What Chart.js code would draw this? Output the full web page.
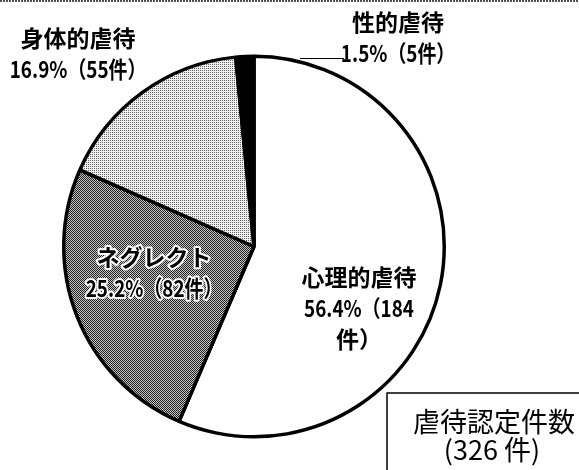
<!DOCTYPE html>
<html>
<head>
<meta charset="utf-8">
<script src="https://cdn.jsdelivr.net/npm/chart.js@4"></script>
<style>
  html, body { margin: 0; padding: 0; background: #fff; }
  #wrap { width: 579px; height: 470px; position: relative; }
</style>
</head>
<body>
<div id="wrap"><canvas id="myChart" width="579" height="470"></canvas></div>
<script>
// 虐待の種別ごとの認定件数（上から時計回り）
let categories = ["心理的虐待", "ネグレクト", "身体的虐待", "性的虐待"];
let counts = [184, 82, 55, 5];
let totalLabel = ["虐待認定件数", "(326 件)"];

let total = counts.reduce((a, b) => a + b, 0);

// ざらついた網かけ用のパターン（4x4 のディザ）
const bayer = [0, 8, 2, 10, 12, 4, 14, 6, 3, 11, 1, 9, 15, 7, 13, 5];
function makePattern(level, dark, light) {
  let c = document.createElement("canvas");
  c.width = 4;
  c.height = 4;
  let g = c.getContext("2d");
  for (let i = 0; i < 16; i++) {
    g.fillStyle = bayer[i] < level ? dark : light;
    g.fillRect(i % 4, Math.floor(i / 4), 1, 1);
  }
  return g.createPattern(c, "repeat");
}

let fills = [
  "#ffffff",
  makePattern(8, "#222222", "#c4c4c4"),
  makePattern(4, "#666666", "#f0f0f0"),
  "#000000",
];

function pctText(v) {
  return (v / total * 100).toFixed(1) + "%（" + v + "件）";
}

// ラベルの置き場所（円の中心からのずれ, px）と改行
let labelPlace = [
  { dx: 105, dy: 31, lines: (t) => [categories[0], t.slice(0, 9), t.slice(9)] },
  { dx: -100, dy: 11, halo: true, lines: (t) => [categories[1], t] },
  { dx: -176, dy: -208, lines: (t) => [categories[2], t] },
  { dx: 144, dy: -224, lines: (t) => [categories[3], t] },
];

const labelFont = 'bold 23px "Noto Sans CJK JP", sans-serif';

const labelPlugin = {
  id: "pieLabels",
  afterDraw(chart) {
    let ctx = chart.ctx;
    let arc = chart.getDatasetMeta(0).data[0];
    let cx = arc.x, cy = arc.y;
    ctx.save();

    // 紙の上端の点線
    ctx.strokeStyle = "#555";
    ctx.lineWidth = 2;
    ctx.setLineDash([2, 1]);
    ctx.beginPath();
    ctx.moveTo(0, 1);
    ctx.lineTo(579, 1);
    ctx.stroke();
    ctx.setLineDash([]);

    // 性的虐待の引き出し線
    ctx.strokeStyle = "#000";
    ctx.lineWidth = 1.2;
    ctx.beginPath();
    ctx.moveTo(cx + 46, cy - 188);
    ctx.lineTo(cx + 90, cy - 188);
    ctx.stroke();

    ctx.font = labelFont;
    ctx.textAlign = "center";
    ctx.textBaseline = "middle";
    counts.forEach((v, i) => {
      let p = labelPlace[i];
      let lines = p.lines(pctText(v));
      lines.forEach((s, k) => {
        let x = cx + p.dx;
        let y = cy + p.dy + k * 31;
        // 数字の入る行は少し詰める
        let w = ctx.measureText(s).width;
        let mw = /\d/.test(s) ? w * 0.82 : w;
        if (p.halo) {
          ctx.strokeStyle = "#fff";
          ctx.lineWidth = 4;
          ctx.lineJoin = "round";
          ctx.strokeText(s, x, y, mw);
        }
        ctx.fillStyle = "#000";
        ctx.fillText(s, x, y, mw);
      });
    });

    // 合計件数の枠
    ctx.strokeStyle = "#000";
    ctx.lineWidth = 1.5;
    ctx.beginPath();
    ctx.moveTo(387, 470);
    ctx.lineTo(387, 393);
    ctx.lineTo(579, 393);
    ctx.stroke();
    ctx.font = '27px "Noto Sans CJK JP", sans-serif';
    ctx.fillText(totalLabel[0], 494, 422);
    ctx.fillText(totalLabel[1], 492, 450);
    ctx.restore();
  },
};

let myChart = document.getElementById("myChart").getContext("2d");

let abuseChart = new Chart(myChart, {
  type: "pie",
  data: {
    labels: categories,
    datasets: [
      {
        data: counts,
        backgroundColor: fills,
        borderColor: "#000",
        borderWidth: 3.5,
        hoverBorderWidth: 3.5,
      },
    ],
  },
  options: {
    responsive: false,
    animation: false,
    events: [],
    layout: { padding: { left: 62, right: 133, top: 53, bottom: 30 } },
    plugins: {
      legend: { display: false },
      tooltip: { enabled: false },
    },
  },
  plugins: [labelPlugin],
});
</script>
</body>
</html>
